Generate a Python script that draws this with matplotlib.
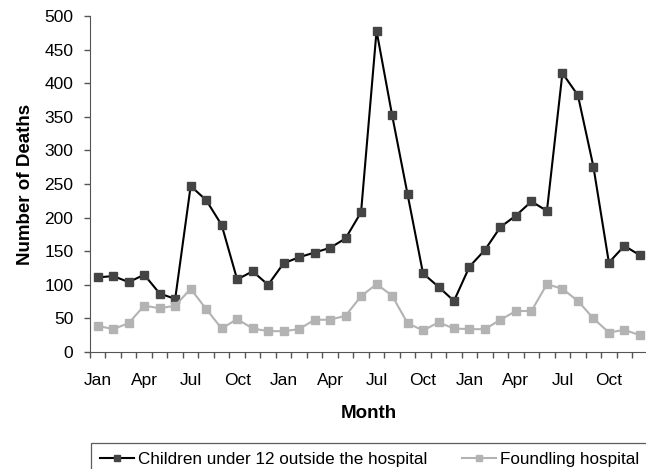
import matplotlib
matplotlib.use("Agg")
import matplotlib.pyplot as plt
import numpy as np

plt.rcParams['font.family'] = ['Liberation Sans', 'DejaVu Sans']

months = ["Jan", "Feb", "Mar", "Apr", "May", "Jun", "Jul", "Aug", "Sep", "Oct", "Nov", "Dec"] * 3
children = [111, 113, 104, 115, 87, 79, 247, 226, 189, 108, 120, 100,
            132, 141, 148, 155, 169, 208, 478, 353, 235, 117, 97, 76,
            127, 152, 186, 203, 224, 210, 415, 382, 276, 133, 158, 144]
foundling = [39, 34, 43, 69, 65, 69, 94, 64, 35, 49, 35, 31,
             31, 34, 48, 48, 54, 83, 101, 84, 43, 32, 44, 35,
             34, 34, 48, 61, 61, 101, 94, 76, 50, 29, 33, 25]
yticks = list(range(0, 501, 50))

W, H = 646, 469
FS = 12.5
fig = plt.figure(figsize=(W / 100, H / 100), dpi=100)
ax = fig.add_axes([90 / W, (H - 352) / H, 557.6 / W, 336 / H])

x = np.arange(len(months))
l1, = ax.plot(x, children, color='black', lw=1.5, marker='s', ms=5.2,
              mfc='#444444', mec='#444444', label='Children under 12 outside the hospital')
l2, = ax.plot(x, foundling, color='#b3b3b3', lw=1.5, marker='s', ms=5.2,
              mfc='#b3b3b3', mec='#b3b3b3', label='Foundling hospital')

ax.set_xlim(-0.5, len(months) - 0.5)
ax.set_ylim(0, 500)
ax.set_yticks(yticks)
ax.set_yticklabels([str(v) for v in yticks], fontsize=FS)
ax.set_xticks(np.arange(-0.5, len(months), 1.0))
ax.set_xticklabels([])
ax.set_xticks(x[::3], minor=True)
ax.set_xticklabels([months[i] for i in x[::3]], minor=True, fontsize=FS)
ax.tick_params(axis='x', which='major', length=4, direction='out', color='#555555', width=1)
ax.tick_params(axis='x', which='minor', length=0, pad=15)
ax.tick_params(axis='y', length=4, direction='out', color='#555555', width=1, pad=8)

for s in ['top', 'right']:
    ax.spines[s].set_visible(False)
ax.spines['left'].set_color('#555555')
ax.spines['bottom'].set_color('#555555')

ax.set_ylabel('Number of Deaths', fontsize=13.5, fontweight='bold', labelpad=7)
ax.set_xlabel('Month', fontsize=13.5, fontweight='bold', labelpad=12)

leg = fig.legend(handles=[l1, l2], loc='upper left', bbox_to_anchor=(91 / W, 1 - 443 / H),
                 ncol=2, frameon=True, fancybox=False, fontsize=12.3, handlelength=2.0,
                 handletextpad=0.25, columnspacing=2.0, borderpad=0.5, borderaxespad=0,
                 edgecolor='#333333', markerscale=0.8)
leg.get_frame().set_linewidth(0.9)

fig.savefig('out.png', dpi=100)
